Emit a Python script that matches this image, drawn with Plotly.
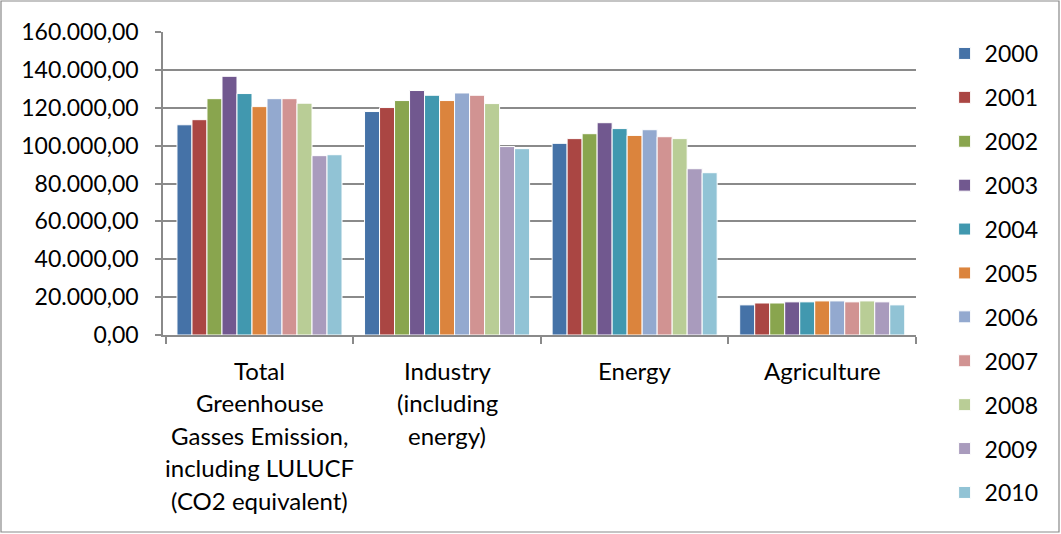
import plotly.graph_objects as go

# Emission categories (one label line per list entry)
categories = ["Total", "Industry", "Energy", "Agriculture"]
category_lines = [
    ["Total", "Greenhouse", "Gasses Emission,", "including LULUCF", "(CO2 equivalent)"],
    ["Industry", "(including", "energy)"],
    ["Energy"],
    ["Agriculture"],
]

years = ["2000", "2001", "2002", "2003", "2004", "2005",
         "2006", "2007", "2008", "2009", "2010"]

# Values per year: Total, Industry, Energy, Agriculture
values_2000 = [111000, 118000, 101200, 15900]
values_2001 = [113700, 120100, 103700, 16900]
values_2002 = [124800, 123800, 106300, 16900]
values_2003 = [136600, 129100, 112100, 17500]
values_2004 = [127500, 126600, 109000, 17500]
values_2005 = [120600, 123800, 105400, 18000]
values_2006 = [124800, 127800, 108400, 18000]
values_2007 = [124800, 126600, 104700, 17500]
values_2008 = [122400, 122200, 103700, 18000]
values_2009 = [94700, 99500, 87800, 17500]
values_2010 = [95200, 98400, 85700, 15900]

series = [values_2000, values_2001, values_2002, values_2003, values_2004,
          values_2005, values_2006, values_2007, values_2008, values_2009,
          values_2010]

colors = ["#4572A7", "#AA4643", "#89A54E", "#71588F", "#4198AF", "#DB843D",
          "#93A9CF", "#D19392", "#B9CD96", "#A99BBD", "#91C3D5"]

FONT = "Lato"
GRID = "#8a8a8a"

W, H = 1061, 534
ML, MR, MT, MB = 163, 145, 32, 199
PW, PH = W - ML - MR, H - MT - MB

fig = go.Figure()
for year, vals, col in zip(years, series, colors):
    fig.add_trace(go.Bar(
        x=categories, y=vals, name=year, legendgroup=year,
        marker=dict(color=col, line=dict(color="white", width=1)),
    ))

# Multi-line category labels under each group
annotations = []
for cat, lines in zip(categories, category_lines):
    for i, line in enumerate(lines):
        annotations.append(dict(
            x=cat, xref="x", y=0, yref="paper", text=line, showarrow=False,
            xanchor="center", yanchor="middle", yshift=-(35 + i * 32.5),
            font=dict(family=FONT, size=24, color="black"),
        ))

# Outer frame around the whole chart (1px inside the page edge)
frame = dict(
    type="rect", xref="paper", yref="paper", layer="above",
    x0=(1 - ML) / PW, x1=(W - 2 - ML) / PW,
    y0=-(MB - 2) / PH, y1=1 + (MT - 1) / PH,
    line=dict(color="#898989", width=1.2),
)

fig.update_layout(
    width=W, height=H,
    margin=dict(l=ML, r=MR, t=MT, b=MB, pad=0),
    plot_bgcolor="white", paper_bgcolor="white",
    separators=",.",
    barmode="group", bargap=0.12, bargroupgap=0,
    font=dict(family=FONT, color="black"),
    showlegend=True,
    legend=dict(
        x=1.038, xanchor="left", y=1.0, yanchor="top",
        font=dict(family=FONT, size=23, color="black"),
        tracegroupgap=11, traceorder="grouped",
        maxheight=H,
        bgcolor="rgba(0,0,0,0)",
    ),
    annotations=annotations,
    shapes=[frame],
)

fig.update_xaxes(
    type="category", showticklabels=False,
    showline=True, linecolor=GRID, linewidth=1.5,
    ticks="outside", tickson="boundaries", ticklen=7, tickcolor=GRID, tickwidth=1.5,
    showgrid=False,
)
fig.update_yaxes(
    range=[0, 160000], dtick=20000, tick0=0, tickformat=",.2f",
    showline=True, linecolor=GRID, linewidth=1.5,
    ticks="outside", ticklen=6, tickcolor=GRID, tickwidth=1.5,
    ticklabelstandoff=12,
    showgrid=True, gridcolor=GRID, gridwidth=1.5,
    tickfont=dict(family=FONT, size=23, color="black"),
    zeroline=False,
)

fig.write_html("out.html")
